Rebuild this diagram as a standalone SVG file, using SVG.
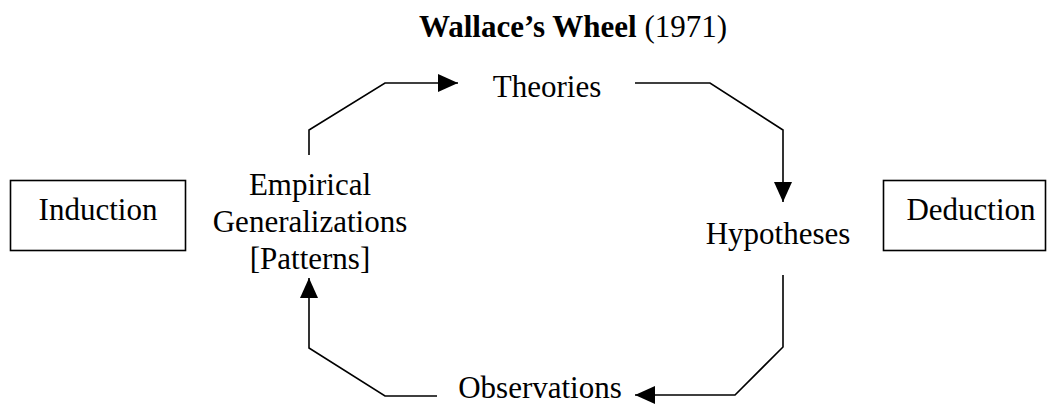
<svg xmlns="http://www.w3.org/2000/svg" width="1047" height="404" viewBox="0 0 1047 404">
<style>
text{font-family:"Liberation Serif","Times New Roman",serif;font-size:31px;fill:#000;text-anchor:middle}
.box{fill:none;stroke:#000;stroke-width:1.6}
.conn{fill:none;stroke:#000;stroke-width:1.6}
</style>
<defs>
<marker id="ah" markerUnits="userSpaceOnUse" markerWidth="20" markerHeight="18" refX="20" refY="9" orient="auto" viewBox="0 0 20 18">
<path d="M0,0 L20,9 L0,18 z" fill="#000"/>
</marker>
</defs>
<rect width="1047" height="404" fill="#fff"/>
<g id="title"><text x="573" y="37"><tspan font-weight="bold">Wallace’s Wheel</tspan> (1971)</text></g>
<g id="theories"><text x="547" y="97">Theories</text></g>
<g id="hypotheses"><text x="778" y="244">Hypotheses</text></g>
<g id="observations"><text x="540" y="398" font-size="30">Observations</text></g>
<g id="empirical"><text x="310" y="195">Empirical</text><text x="310" y="232">Generalizations</text><text x="310" y="269">[Patterns]</text></g>
<g id="induction"><rect class="box" x="10.5" y="180.5" width="175" height="70"/><text x="98" y="220">Induction</text></g>
<g id="deduction"><rect class="box" x="883.5" y="180.5" width="162" height="70"/><text x="971" y="220">Deduction</text></g>
<g id="connectors">
<path class="conn" marker-end="url(#ah)" d="M309,155 L309,130 L385,83 L458,83"/>
<path class="conn" marker-end="url(#ah)" d="M635,83 L710,83 L783,130 L783,202"/>
<path class="conn" marker-end="url(#ah)" d="M783,275 L783,347 L735,395 L635,395"/>
<path class="conn" marker-end="url(#ah)" d="M437,396 L385,396 L309,348 L309,278"/>
</g>
</svg>
